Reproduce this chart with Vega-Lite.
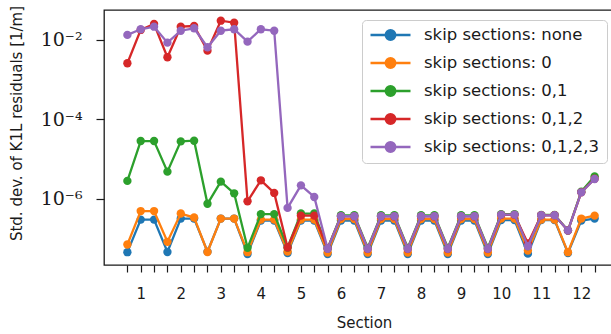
{
  "$schema": "https://vega.github.io/schema/vega-lite/v6.json",
  "width": 514,
  "height": 255,
  "autosize": {"type": "none"},
  "padding": {"left": 104, "top": 10, "right": 0, "bottom": 69},
  "background": "white",
  "config": {
    "view": {"stroke": "#1a1a1a", "strokeWidth": 1.3},
    "font": "DejaVu Sans"
  },
  "data": {
    "values": [
      {"s": "none", "x": 0.667, "y": 4.46e-8}, {"s": "none", "x": 1, "y": 2.96e-7}, {"s": "none", "x": 1.333, "y": 2.96e-7},
      {"s": "none", "x": 1.667, "y": 4.51e-8}, {"s": "none", "x": 2, "y": 3.14e-7}, {"s": "none", "x": 2.333, "y": 3.14e-7},
      {"s": "none", "x": 2.667, "y": 4.6e-8}, {"s": "none", "x": 3, "y": 3.14e-7}, {"s": "none", "x": 3.333, "y": 3.14e-7},
      {"s": "none", "x": 3.667, "y": 4.02e-8}, {"s": "none", "x": 4, "y": 2.8e-7}, {"s": "none", "x": 4.333, "y": 2.8e-7},
      {"s": "none", "x": 4.667, "y": 4.26e-8}, {"s": "none", "x": 5, "y": 2.8e-7}, {"s": "none", "x": 5.333, "y": 2.8e-7},
      {"s": "none", "x": 5.667, "y": 4.02e-8}, {"s": "none", "x": 6, "y": 2.8e-7}, {"s": "none", "x": 6.333, "y": 2.8e-7},
      {"s": "none", "x": 6.667, "y": 4.02e-8}, {"s": "none", "x": 7, "y": 2.8e-7}, {"s": "none", "x": 7.333, "y": 2.8e-7},
      {"s": "none", "x": 7.667, "y": 4.02e-8}, {"s": "none", "x": 8, "y": 2.8e-7}, {"s": "none", "x": 8.333, "y": 2.8e-7},
      {"s": "none", "x": 8.667, "y": 4.02e-8}, {"s": "none", "x": 9, "y": 2.8e-7}, {"s": "none", "x": 9.333, "y": 2.8e-7},
      {"s": "none", "x": 9.667, "y": 4.02e-8}, {"s": "none", "x": 10, "y": 2.88e-7}, {"s": "none", "x": 10.333, "y": 2.88e-7},
      {"s": "none", "x": 10.667, "y": 4.1e-8}, {"s": "none", "x": 11, "y": 2.88e-7}, {"s": "none", "x": 11.333, "y": 2.88e-7},
      {"s": "none", "x": 11.667, "y": 4.26e-8}, {"s": "none", "x": 12, "y": 2.8e-7}, {"s": "none", "x": 12.333, "y": 3.14e-7},

      {"s": "0", "x": 0.667, "y": 6.97e-8}, {"s": "0", "x": 1, "y": 4.85e-7}, {"s": "0", "x": 1.333, "y": 4.85e-7},
      {"s": "0", "x": 1.667, "y": 8.14e-8}, {"s": "0", "x": 2, "y": 4.2e-7}, {"s": "0", "x": 2.333, "y": 3.33e-7},
      {"s": "0", "x": 2.667, "y": 4.51e-8}, {"s": "0", "x": 3, "y": 3.14e-7}, {"s": "0", "x": 3.333, "y": 3.14e-7},
      {"s": "0", "x": 3.667, "y": 4.46e-8}, {"s": "0", "x": 4, "y": 2.96e-7}, {"s": "0", "x": 4.333, "y": 2.96e-7},
      {"s": "0", "x": 4.667, "y": 4.64e-8}, {"s": "0", "x": 5, "y": 2.96e-7}, {"s": "0", "x": 5.333, "y": 2.96e-7},
      {"s": "0", "x": 5.667, "y": 4.38e-8}, {"s": "0", "x": 6, "y": 3.05e-7}, {"s": "0", "x": 6.333, "y": 3.05e-7},
      {"s": "0", "x": 6.667, "y": 4.38e-8}, {"s": "0", "x": 7, "y": 3.05e-7}, {"s": "0", "x": 7.333, "y": 3.05e-7},
      {"s": "0", "x": 7.667, "y": 4.38e-8}, {"s": "0", "x": 8, "y": 3.05e-7}, {"s": "0", "x": 8.333, "y": 3.05e-7},
      {"s": "0", "x": 8.667, "y": 4.38e-8}, {"s": "0", "x": 9, "y": 3.05e-7}, {"s": "0", "x": 9.333, "y": 3.05e-7},
      {"s": "0", "x": 9.667, "y": 4.38e-8}, {"s": "0", "x": 10, "y": 3.14e-7}, {"s": "0", "x": 10.333, "y": 3.14e-7},
      {"s": "0", "x": 10.667, "y": 4.92e-8}, {"s": "0", "x": 11, "y": 2.96e-7}, {"s": "0", "x": 11.333, "y": 2.96e-7},
      {"s": "0", "x": 11.667, "y": 4.46e-8}, {"s": "0", "x": 12, "y": 3.14e-7}, {"s": "0", "x": 12.333, "y": 3.73e-7},

      {"s": "0,1", "x": 0.667, "y": 2.8e-6}, {"s": "0,1", "x": 1, "y": 2.83e-5}, {"s": "0,1", "x": 1.333, "y": 2.83e-5},
      {"s": "0,1", "x": 1.667, "y": 4.78e-6}, {"s": "0,1", "x": 2, "y": 2.77e-5}, {"s": "0,1", "x": 2.333, "y": 2.88e-5},
      {"s": "0,1", "x": 2.667, "y": 7.4e-7}, {"s": "0,1", "x": 3, "y": 2.68e-6}, {"s": "0,1", "x": 3.333, "y": 1.36e-6},
      {"s": "0,1", "x": 3.667, "y": 5.75e-8}, {"s": "0,1", "x": 4, "y": 4.07e-7}, {"s": "0,1", "x": 4.333, "y": 4.07e-7},
      {"s": "0,1", "x": 4.667, "y": 5.85e-8}, {"s": "0,1", "x": 5, "y": 4.2e-7}, {"s": "0,1", "x": 5.333, "y": 4.2e-7},
      {"s": "0,1", "x": 5.667, "y": 5.52e-8}, {"s": "0,1", "x": 6, "y": 3.8e-7}, {"s": "0,1", "x": 6.333, "y": 3.8e-7},
      {"s": "0,1", "x": 6.667, "y": 5.75e-8}, {"s": "0,1", "x": 7, "y": 3.8e-7}, {"s": "0,1", "x": 7.333, "y": 3.8e-7},
      {"s": "0,1", "x": 7.667, "y": 5.75e-8}, {"s": "0,1", "x": 8, "y": 3.8e-7}, {"s": "0,1", "x": 8.333, "y": 3.8e-7},
      {"s": "0,1", "x": 8.667, "y": 5.75e-8}, {"s": "0,1", "x": 9, "y": 3.8e-7}, {"s": "0,1", "x": 9.333, "y": 3.8e-7},
      {"s": "0,1", "x": 9.667, "y": 5.75e-8}, {"s": "0,1", "x": 10, "y": 4.07e-7}, {"s": "0,1", "x": 10.333, "y": 4.07e-7},
      {"s": "0,1", "x": 10.667, "y": 6.4e-8}, {"s": "0,1", "x": 11, "y": 3.9e-7}, {"s": "0,1", "x": 11.333, "y": 3.9e-7},
      {"s": "0,1", "x": 11.667, "y": 1.57e-7}, {"s": "0,1", "x": 12, "y": 1.5e-6}, {"s": "0,1", "x": 12.333, "y": 3.64e-6},

      {"s": "0,1,2", "x": 0.667, "y": 2.59e-3}, {"s": "0,1,2", "x": 1, "y": 1.79e-2}, {"s": "0,1,2", "x": 1.333, "y": 2.53e-2},
      {"s": "0,1,2", "x": 1.667, "y": 3.67e-3}, {"s": "0,1,2", "x": 2, "y": 2.16e-2}, {"s": "0,1,2", "x": 2.333, "y": 2.25e-2},
      {"s": "0,1,2", "x": 2.667, "y": 5.38e-3}, {"s": "0,1,2", "x": 3, "y": 3.06e-2}, {"s": "0,1,2", "x": 3.333, "y": 2.72e-2},
      {"s": "0,1,2", "x": 3.667, "y": 8.55e-7}, {"s": "0,1,2", "x": 4, "y": 2.89e-6}, {"s": "0,1,2", "x": 4.333, "y": 1.39e-6},
      {"s": "0,1,2", "x": 4.667, "y": 5.85e-8}, {"s": "0,1,2", "x": 5, "y": 3.73e-7}, {"s": "0,1,2", "x": 5.333, "y": 3.73e-7},
      {"s": "0,1,2", "x": 5.667, "y": 5.52e-8}, {"s": "0,1,2", "x": 6, "y": 3.55e-7}, {"s": "0,1,2", "x": 6.333, "y": 3.55e-7},
      {"s": "0,1,2", "x": 6.667, "y": 5.35e-8}, {"s": "0,1,2", "x": 7, "y": 3.55e-7}, {"s": "0,1,2", "x": 7.333, "y": 3.55e-7},
      {"s": "0,1,2", "x": 7.667, "y": 5.35e-8}, {"s": "0,1,2", "x": 8, "y": 3.55e-7}, {"s": "0,1,2", "x": 8.333, "y": 3.55e-7},
      {"s": "0,1,2", "x": 8.667, "y": 5.35e-8}, {"s": "0,1,2", "x": 9, "y": 3.55e-7}, {"s": "0,1,2", "x": 9.333, "y": 3.55e-7},
      {"s": "0,1,2", "x": 9.667, "y": 5.35e-8}, {"s": "0,1,2", "x": 10, "y": 3.9e-7}, {"s": "0,1,2", "x": 10.333, "y": 3.9e-7},
      {"s": "0,1,2", "x": 10.667, "y": 7.38e-8}, {"s": "0,1,2", "x": 11, "y": 3.8e-7}, {"s": "0,1,2", "x": 11.333, "y": 3.8e-7},
      {"s": "0,1,2", "x": 11.667, "y": 1.57e-7}, {"s": "0,1,2", "x": 12, "y": 1.44e-6}, {"s": "0,1,2", "x": 12.333, "y": 3.18e-6},

      {"s": "0,1,2,3", "x": 0.667, "y": 1.34e-2}, {"s": "0,1,2,3", "x": 1, "y": 1.86e-2}, {"s": "0,1,2,3", "x": 1.333, "y": 2.16e-2},
      {"s": "0,1,2,3", "x": 1.667, "y": 8.55e-3}, {"s": "0,1,2,3", "x": 2, "y": 1.71e-2}, {"s": "0,1,2,3", "x": 2.333, "y": 1.97e-2},
      {"s": "0,1,2,3", "x": 2.667, "y": 6.55e-3}, {"s": "0,1,2,3", "x": 3, "y": 1.71e-2}, {"s": "0,1,2,3", "x": 3.333, "y": 1.86e-2},
      {"s": "0,1,2,3", "x": 3.667, "y": 9.06e-3}, {"s": "0,1,2,3", "x": 4, "y": 1.86e-2}, {"s": "0,1,2,3", "x": 4.333, "y": 1.71e-2},
      {"s": "0,1,2,3", "x": 4.667, "y": 5.83e-7}, {"s": "0,1,2,3", "x": 5, "y": 2.16e-6}, {"s": "0,1,2,3", "x": 5.333, "y": 1.1e-6},
      {"s": "0,1,2,3", "x": 5.667, "y": 5.43e-8}, {"s": "0,1,2,3", "x": 6, "y": 3.59e-7}, {"s": "0,1,2,3", "x": 6.333, "y": 3.59e-7},
      {"s": "0,1,2,3", "x": 6.667, "y": 5.43e-8}, {"s": "0,1,2,3", "x": 7, "y": 3.59e-7}, {"s": "0,1,2,3", "x": 7.333, "y": 3.59e-7},
      {"s": "0,1,2,3", "x": 7.667, "y": 5.43e-8}, {"s": "0,1,2,3", "x": 8, "y": 3.59e-7}, {"s": "0,1,2,3", "x": 8.333, "y": 3.59e-7},
      {"s": "0,1,2,3", "x": 8.667, "y": 5.43e-8}, {"s": "0,1,2,3", "x": 9, "y": 3.59e-7}, {"s": "0,1,2,3", "x": 9.333, "y": 3.59e-7},
      {"s": "0,1,2,3", "x": 9.667, "y": 5.43e-8}, {"s": "0,1,2,3", "x": 10, "y": 3.95e-7}, {"s": "0,1,2,3", "x": 10.333, "y": 3.95e-7},
      {"s": "0,1,2,3", "x": 10.667, "y": 6.31e-8}, {"s": "0,1,2,3", "x": 11, "y": 3.8e-7}, {"s": "0,1,2,3", "x": 11.333, "y": 3.8e-7},
      {"s": "0,1,2,3", "x": 11.667, "y": 1.57e-7}, {"s": "0,1,2,3", "x": 12, "y": 1.44e-6}, {"s": "0,1,2,3", "x": 12.333, "y": 3.13e-6}
    ]
  },
  "encoding": {
    "x": {
      "field": "x",
      "type": "quantitative",
      "scale": {"domain": [0.0833, 12.9167], "nice": false, "zero": false},
      "axis": {
        "title": "Section",
        "values": [0.667, 1, 1.333, 1.667, 2, 2.333, 2.667, 3, 3.333, 3.667, 4, 4.333, 4.667, 5, 5.333, 5.667, 6, 6.333, 6.667, 7, 7.333, 7.667, 8, 8.333, 8.667, 9, 9.333, 9.667, 10, 10.333, 10.667, 11, 11.333, 11.667, 12, 12.333],
        "labelExpr": "abs(datum.value - round(datum.value)) < 0.05 ? format(round(datum.value), 'd') : ''",
        "labelOverlap": false,
        "labelFlush": false,
        "grid": false,
        "domain": false,
        "tickSize": 7,
        "tickWidth": 1.2,
        "tickColor": "#1a1a1a",
        "labelFont": "DejaVu Sans",
        "labelFontSize": 15,
        "labelColor": "#1a1a1a",
        "labelBaseline": "alphabetic",
        "labelPadding": 26,
        "titleFont": "DejaVu Sans",
        "titleFontSize": 15,
        "titleFontWeight": "normal",
        "titleColor": "#1a1a1a",
        "titleBaseline": "alphabetic",
        "titleX": 260,
        "titleY": 62
      }
    },
    "y": {
      "field": "y",
      "type": "quantitative",
      "scale": {"type": "log", "domain": [2.12e-8, 0.0569], "nice": false},
      "axis": {
        "title": "Std. dev. of K1L residuals [1/m]",
        "values": [0.01, 0.0001, 0.000001],
        "labelExpr": "datum.value > 0.005 ? '10⁻²' : (datum.value > 0.00005 ? '10⁻⁴' : '10⁻⁶')",
        "grid": false,
        "domain": false,
        "tickSize": 8,
        "tickWidth": 1.2,
        "tickColor": "#1a1a1a",
        "labelFont": "DejaVu Serif",
        "labelFontSize": 19,
        "labelColor": "#1a1a1a",
        "labelBaseline": "middle",
        "labelPadding": 14,
        "titleFont": "DejaVu Sans",
        "titleFontSize": 15,
        "titleFontWeight": "normal",
        "titleColor": "#1a1a1a",
        "titleAngle": 270,
        "titleAlign": "center",
        "titleBaseline": "alphabetic",
        "titleX": -83,
        "titleY": 113
      }
    },
    "color": {
      "field": "s",
      "type": "nominal",
      "scale": {
        "domain": ["none", "0", "0,1", "0,1,2", "0,1,2,3"],
        "range": ["#1f77b4", "#ff7f0e", "#2ca02c", "#d62728", "#9467bd"]
      },
      "legend": {
        "title": null,
        "orient": "none",
        "legendX": 258,
        "legendY": 10,
        "labelExpr": "'skip sections: ' + datum.label",
        "labelLimit": 400,
        "labelFont": "DejaVu Sans",
        "labelFontSize": 16.5,
        "labelColor": "#1a1a1a",
        "labelOffset": 12,
        "symbolType": "M-1,0H1M0.24,0A0.24,0.24,0,1,1,-0.24,0A0.24,0.24,0,1,1,0.24,0Z",
        "symbolSize": 1600,
        "symbolStrokeWidth": 2.3,
        "symbolOffset": 0,
        "clipHeight": 16,
        "rowPadding": 11,
        "padding": 7,
        "fillColor": "rgba(255,255,255,0.85)",
        "strokeColor": "#cccccc",
        "cornerRadius": 4,
        "encode": {
          "symbols": {
            "update": {
              "fill": {"scale": "color", "field": "value"},
              "stroke": {"scale": "color", "field": "value"},
              "opacity": {"value": 1}
            }
          }
        }
      }
    }
  },
  "layer": [
    {
      "transform": [{"filter": "datum.s === 'none'"}],
      "mark": {"type": "line", "strokeWidth": 2.3, "point": {"filled": true, "size": 70, "opacity": 1}}
    },
    {
      "transform": [{"filter": "datum.s === '0'"}],
      "mark": {"type": "line", "strokeWidth": 2.3, "point": {"filled": true, "size": 70, "opacity": 1}}
    },
    {
      "transform": [{"filter": "datum.s === '0,1'"}],
      "mark": {"type": "line", "strokeWidth": 2.3, "point": {"filled": true, "size": 70, "opacity": 1}}
    },
    {
      "transform": [{"filter": "datum.s === '0,1,2'"}],
      "mark": {"type": "line", "strokeWidth": 2.3, "point": {"filled": true, "size": 70, "opacity": 1}}
    },
    {
      "transform": [{"filter": "datum.s === '0,1,2,3'"}],
      "mark": {"type": "line", "strokeWidth": 2.3, "point": {"filled": true, "size": 70, "opacity": 1}}
    }
  ]
}
